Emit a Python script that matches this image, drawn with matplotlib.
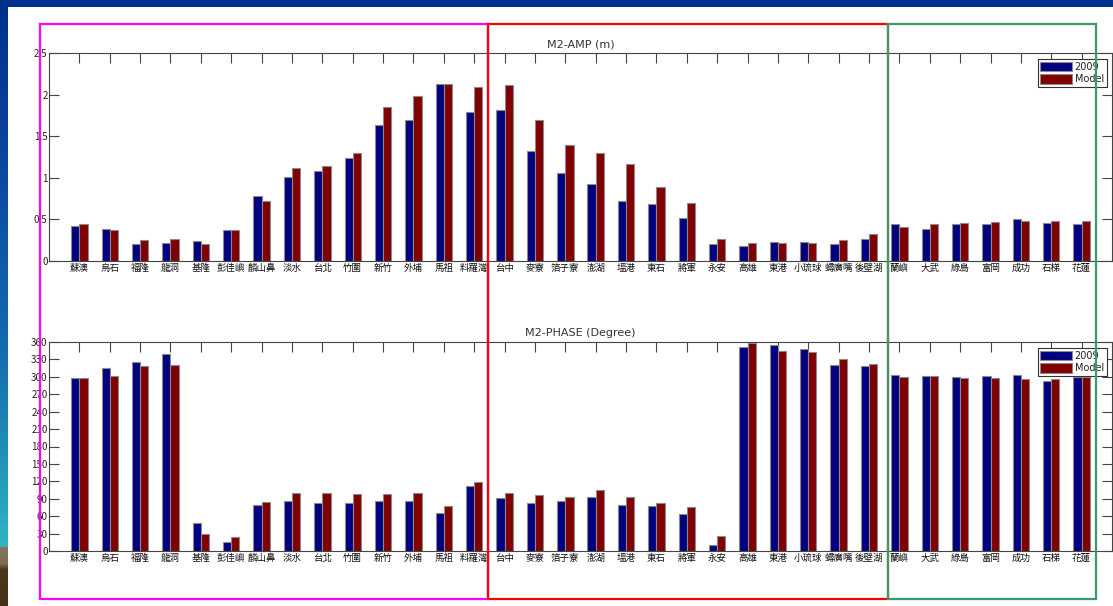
import numpy as np
import matplotlib
matplotlib.use('Agg')
from matplotlib import pyplot as plt
from matplotlib.patches import Rectangle

plt.rcParams['font.family'] = ['Noto Sans CJK TC', 'DejaVu Sans']

stations = ['蘇澳', '烏石', '福隆', '龍洞', '基隆', '彭佳嶼', '麟山鼻', '淡水', '台北',
            '竹圍', '新竹', '外埔', '馬祖', '料羅灣', '台中', '麥寮', '箔子寮', '澎湖',
            '塭港', '東石', '將軍', '永安', '高雄', '東港', '小琉球', '蟳廣嘴', '後壁湖',
            '蘭嶼', '大武', '綠島', '富岡', '成功', '石梯', '花蓮']

# M2 amplitude (m)
amp_2009 = [0.42, 0.38, 0.21, 0.22, 0.24, 0.37, 0.78, 1.01, 1.08, 1.24, 1.63, 1.70,
            2.13, 1.79, 1.82, 1.32, 1.06, 0.93, 0.72, 0.68, 0.52, 0.20, 0.18, 0.23,
            0.23, 0.20, 0.26, 0.45, 0.38, 0.44, 0.44, 0.50, 0.46, 0.45]
amp_model = [0.44, 0.37, 0.25, 0.26, 0.21, 0.37, 0.72, 1.12, 1.14, 1.30, 1.85, 1.98,
             2.13, 2.09, 2.11, 1.69, 1.39, 1.30, 1.16, 0.89, 0.70, 0.26, 0.22, 0.22,
             0.22, 0.25, 0.32, 0.41, 0.44, 0.46, 0.47, 0.48, 0.48, 0.48]

# M2 phase (degree)
pha_2009 = [298, 315, 325, 339, 49, 15, 79, 86, 82, 83, 86, 86, 65, 112, 91, 83, 86,
            93, 79, 78, 64, 11, 352, 354, 348, 321, 319, 303, 301, 299, 301, 303, 293, 300]
pha_model = [298, 302, 318, 321, 29, 24, 85, 100, 100, 98, 98, 100, 78, 119, 100, 96,
             93, 105, 93, 83, 76, 25, 359, 345, 343, 331, 322, 300, 301, 298, 298, 297,
             297, 300]

W, H = 1113, 606
blue = '#000080'
red = '#800000'
axcol = '#444444'


def draw_panel(ax, v1, v2, title, yticks, ylabels, ymax):
    x = np.arange(1, len(stations) + 1)
    w = 0.27
    ax.bar(x - w / 2, v1, width=w, color=blue, edgecolor='#8a8a8a', linewidth=0.8,
           label='2009', zorder=2)
    ax.bar(x + w / 2, v2, width=w, color=red, edgecolor='#8a8a8a', linewidth=0.8,
           label='Model', zorder=2)
    ax.set_xlim(0, len(stations) + 1)
    ax.set_ylim(0, ymax)
    ax.set_xticks(x)
    ax.set_xticklabels(stations, fontsize=6.8, color='#111111')
    ax.set_yticks(yticks)
    ax.set_yticklabels(ylabels, fontsize=7, color='#222222')
    ax.tick_params(direction='in', length=7, width=0.8, color=axcol,
                   top=True, right=True, pad=2)
    ax.tick_params(axis='y', pad=1)
    for s in ax.spines.values():
        s.set_color(axcol)
        s.set_linewidth(0.8)
    ax.set_title(title, fontsize=8, color='#333333', pad=4, family='DejaVu Sans')
    leg = ax.legend(loc='upper right', bbox_to_anchor=(0.995, 0.972), fontsize=7,
                    fancybox=False, framealpha=1, edgecolor='#333333',
                    handlelength=3.2, handleheight=1.1, borderpad=0.3,
                    labelspacing=0.25, handletextpad=0.3, borderaxespad=0)
    leg.get_frame().set_linewidth(0.8)
    for t in leg.get_texts():
        t.set_color('#222222')
        t.set_family('DejaVu Sans')


fig = plt.figure(figsize=(W / 100, H / 100), dpi=100)
fig.patch.set_facecolor('white')

ax1 = fig.add_axes([49 / W, (H - 261) / H, 1063 / W, 208 / H])
draw_panel(ax1, amp_2009, amp_model, 'M2-AMP (m)',
           [0, 0.5, 1, 1.5, 2, 2.5], ['0', '0.5', '1', '1.5', '2', '2.5'], 2.5)

ax2 = fig.add_axes([49 / W, (H - 551) / H, 1063 / W, 209 / H])
yt = list(range(0, 361, 30))
draw_panel(ax2, pha_2009, pha_model, 'M2-PHASE (Degree)', yt, [str(v) for v in yt], 360)

# slide frame: top band and shaded left band
fig.add_artist(Rectangle((0, (H - 7) / H), 1, 7 / H, transform=fig.transFigure,
                         facecolor='#00318c', edgecolor='none', zorder=5))
side = fig.add_axes([0, 0, 8 / W, (H - 7) / H], zorder=5)
side.axis('off')
stops_y = [0, 150, 350, 500, 538, 541, 556, 562, 599]
stops_c = np.array([[0, 49, 140], [10, 70, 160], [20, 110, 175], [40, 165, 190],
                    [50, 180, 195], [130, 115, 90], [125, 110, 85], [75, 55, 25],
                    [70, 50, 22]]) / 255
yy = np.arange(599)
grad = np.stack([np.interp(yy, stops_y, stops_c[:, i]) for i in range(3)], axis=-1)
side.imshow(grad[:, None, :], aspect='auto', interpolation='nearest')

# highlighted station groups
boxes = [(40, 488, '#ff00ff'), (488, 888, '#ff0000'), (888, 1096, '#3a9a6a')]
for x0, x1, c in boxes:
    fig.add_artist(Rectangle((x0 / W, (H - 599) / H), (x1 - x0) / W, 575 / H,
                             transform=fig.transFigure, fill=False, edgecolor=c,
                             linewidth=1.6, zorder=6))

fig.savefig('out.png', dpi=100)
